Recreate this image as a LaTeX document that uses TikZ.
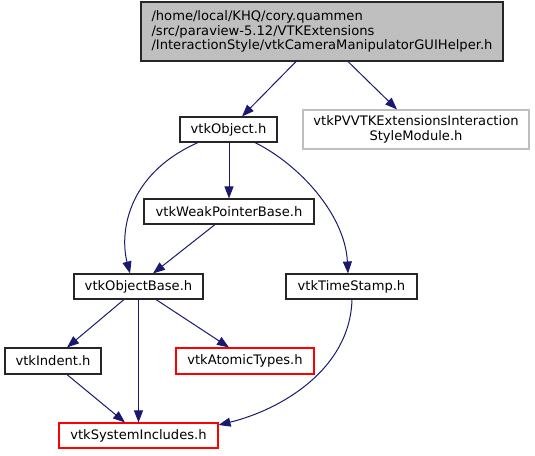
\documentclass[tikz,border=0pt]{standalone}
\usepackage{fontspec}
\setmainfont{DejaVu Sans}
\usetikzlibrary{arrows.meta}
\definecolor{edgeblue}{HTML}{191970}
\definecolor{boxgray}{HTML}{BFBFBF}
\definecolor{boxred}{HTML}{FF0000}
\begin{document}
\begin{tikzpicture}[x=1pt,y=-1pt,
  box/.style={draw=black!85,line width=1.1pt,rectangle,inner sep=0pt,align=center,
    font=\fontsize{13.1}{14.6}\selectfont},
  redbox/.style={box,draw=boxred},
  graybox/.style={box,draw=boxgray},
  edge/.style={draw=edgeblue,line width=1pt,-{Triangle[length=12pt,width=9pt]}}]
\useasboundingbox (0,0) rectangle (535,455);
\node[box,align=left,fill=boxgray,minimum width=362pt,minimum height=59pt] (top) at (322,31.5)
  {/home/local/KHQ/cory.quammen\\/src/paraview-5.12/VTKExtensions\\/InteractionStyle/vtkCameraManipulatorGUIHelper.h};
\node[box,minimum width=97pt,minimum height=25pt] (obj) at (228.5,129.5) {vtkObject.h};
\node[graybox,minimum width=226pt,minimum height=39pt] (pv) at (416,129.5) {vtkPVVTKExtensionsInteraction\\StyleModule.h};
\node[box,minimum width=170pt,minimum height=25pt] (weak) at (229,211.5) {vtkWeakPointerBase.h};
\node[box,minimum width=129pt,minimum height=25pt] (base) at (138.5,286.5) {vtkObjectBase.h};
\node[box,minimum width=131pt,minimum height=25pt] (ts) at (351.5,286.5) {vtkTimeStamp.h};
\node[box,minimum width=96pt,minimum height=26pt] (ind) at (53,361) {vtkIndent.h};
\node[redbox,minimum width=138pt,minimum height=26pt] (atom) at (245,361) {vtkAtomicTypes.h};
\node[redbox,minimum width=159pt,minimum height=25pt] (sys) at (138.5,435.5) {vtkSystemIncludes.h};

\draw[edge] ([xshift=-26pt]top.south) -- ([xshift=13.5pt]obj.north);
\draw[edge] ([xshift=26pt]top.south) -- ([xshift=-19pt]pv.north);
\draw[edge] ([xshift=0.5pt]obj.south) -- (weak.north);
\draw[edge] ([xshift=-30.5pt]obj.south) .. controls (125,175) and (120,235) .. ([xshift=-8.5pt]base.north);
\draw[edge] ([xshift=26.5pt]obj.south) .. controls (300,165) and (345,215) .. ([xshift=-3.5pt]ts.north);
\draw[edge] ([xshift=-14pt]weak.south) -- ([xshift=14.5pt]base.north);
\draw[edge] ([xshift=-14.5pt]base.south) -- ([xshift=14pt]ind.north);
\draw[edge] (base.south) -- (sys.north);
\draw[edge] ([xshift=17.5pt]base.south) -- ([xshift=-16pt]atom.north);
\draw[edge] ([xshift=14pt]ind.south) -- ([xshift=-13.5pt]sys.north);
\draw[edge] ([xshift=0.5pt]ts.south) .. controls (350,370) and (280,410) .. ([yshift=10.5pt]sys.east);
\end{tikzpicture}
\end{document}
